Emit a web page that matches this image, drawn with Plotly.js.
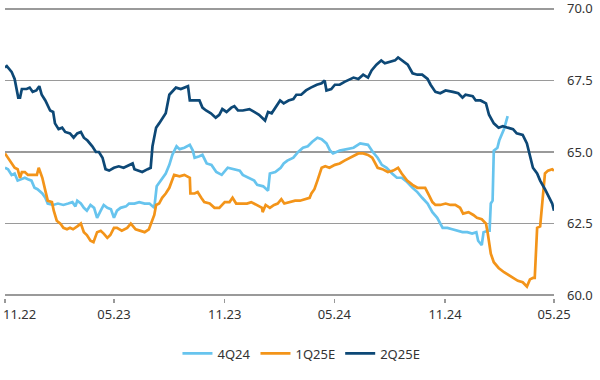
<!DOCTYPE html>
<html>
<head>
<meta charset="utf-8">
<script src="https://cdn.plot.ly/plotly-3.0.1.min.js"></script>
<style>html,body{margin:0;padding:0;background:#fff;}#chart{width:600px;height:380px;}</style>
</head>
<body>
<div id="chart"></div>
<script>
// 4Q24
const dates4Q24 = ["2022-11-01","2022-11-06","2022-11-12","2022-11-17","2022-11-22","2022-11-29","2022-12-04","2022-12-09","2022-12-15","2022-12-20","2022-12-25","2023-01-02","2023-01-07","2023-01-11","2023-01-20","2023-01-28","2023-02-06","2023-02-14","2023-02-21","2023-02-26","2023-03-01","2023-03-07","2023-03-12","2023-03-17","2023-03-23","2023-03-29","2023-04-03","2023-04-09","2023-04-14","2023-04-20","2023-04-26","2023-05-01","2023-05-06","2023-05-12","2023-05-21","2023-05-26","2023-06-04","2023-06-12","2023-06-21","2023-06-29","2023-07-07","2023-07-11","2023-07-18","2023-07-26","2023-08-01","2023-08-06","2023-08-13","2023-08-18","2023-08-26","2023-09-04","2023-09-09","2023-09-12","2023-09-20","2023-09-25","2023-10-02","2023-10-10","2023-10-18","2023-10-27","2023-11-06","2023-11-17","2023-11-26","2023-12-01","2023-12-12","2023-12-20","2023-12-25","2024-01-04","2024-01-12","2024-01-15","2024-01-24","2024-02-02","2024-02-07","2024-02-13","2024-02-23","2024-03-02","2024-03-10","2024-03-18","2024-03-25","2024-04-03","2024-04-10","2024-04-18","2024-04-24","2024-04-29","2024-05-10","2024-05-22","2024-06-02","2024-06-13","2024-06-22","2024-06-26","2024-07-04","2024-07-12","2024-07-19","2024-07-27","2024-08-05","2024-08-13","2024-08-21","2024-08-30","2024-09-08","2024-09-16","2024-09-24","2024-10-03","2024-10-11","2024-10-19","2024-10-28","2024-11-05","2024-11-13","2024-11-21","2024-11-30","2024-12-08","2024-12-16","2024-12-23","2024-12-26","2025-01-01","2025-01-04","2025-01-11","2025-01-14","2025-01-16","2025-01-19","2025-01-21","2025-01-27","2025-01-30","2025-02-07","2025-02-13"];
const values4Q24 = [64.45,64.4,64.2,64.25,64.0,64.05,64.1,64.05,64.0,63.75,63.7,63.55,63.4,63.2,63.15,63.2,63.15,63.2,63.25,63.1,63.3,63.2,63.05,62.95,63.15,63.05,62.7,62.95,63.15,63.05,63.0,62.7,62.95,63.05,63.1,63.2,63.2,63.25,63.2,63.2,63.05,63.8,64.0,64.25,64.55,64.9,65.2,65.1,65.15,65.25,65.05,64.8,64.85,64.9,64.6,64.55,64.3,64.2,64.45,64.4,64.35,64.2,64.1,64.0,63.85,63.8,63.65,64.25,64.3,64.45,64.6,64.7,64.8,65.0,65.15,65.2,65.35,65.5,65.45,65.3,65.05,64.95,65.05,65.1,65.15,65.3,65.25,65.25,65.0,64.8,64.55,64.45,64.25,64.1,64.1,63.95,63.75,63.6,63.4,63.2,62.9,62.7,62.35,62.35,62.3,62.25,62.2,62.2,62.15,62.2,61.9,61.75,62.2,62.25,62.25,63.2,63.3,65.05,65.15,65.4,65.8,66.25];

// 1Q25E
const dates1Q25E = ["2022-11-01","2022-11-06","2022-11-12","2022-11-17","2022-11-22","2022-11-26","2022-11-29","2022-12-04","2022-12-09","2022-12-15","2022-12-24","2022-12-27","2023-01-02","2023-01-07","2023-01-11","2023-01-18","2023-01-21","2023-01-26","2023-02-01","2023-02-06","2023-02-12","2023-02-17","2023-02-22","2023-03-01","2023-03-07","2023-03-12","2023-03-17","2023-03-23","2023-03-28","2023-04-03","2023-04-09","2023-04-14","2023-04-20","2023-04-25","2023-05-01","2023-05-06","2023-05-14","2023-05-23","2023-05-29","2023-06-06","2023-06-12","2023-06-21","2023-06-28","2023-07-02","2023-07-07","2023-07-10","2023-07-15","2023-07-20","2023-07-26","2023-08-01","2023-08-04","2023-08-09","2023-08-18","2023-08-26","2023-09-04","2023-09-05","2023-09-12","2023-09-17","2023-09-23","2023-09-28","2023-10-07","2023-10-15","2023-10-23","2023-11-01","2023-11-09","2023-11-14","2023-11-20","2023-11-29","2023-12-08","2023-12-15","2023-12-24","2024-01-02","2024-01-03","2024-01-08","2024-01-15","2024-01-22","2024-01-28","2024-02-03","2024-02-08","2024-02-18","2024-02-26","2024-03-05","2024-03-13","2024-03-21","2024-03-24","2024-03-29","2024-04-03","2024-04-10","2024-04-16","2024-04-23","2024-05-02","2024-05-10","2024-05-18","2024-05-27","2024-06-05","2024-06-10","2024-06-18","2024-06-26","2024-07-03","2024-07-07","2024-07-12","2024-07-20","2024-07-29","2024-08-07","2024-08-15","2024-08-21","2024-08-30","2024-09-08","2024-09-16","2024-09-23","2024-09-29","2024-10-05","2024-10-11","2024-10-16","2024-10-24","2024-11-02","2024-11-10","2024-11-18","2024-11-26","2024-12-01","2024-12-10","2024-12-18","2024-12-24","2025-01-01","2025-01-08","2025-01-11","2025-01-16","2025-01-21","2025-01-29","2025-02-07","2025-02-15","2025-02-23","2025-03-02","2025-03-10","2025-03-17","2025-03-22","2025-03-27","2025-03-30","2025-04-03","2025-04-08","2025-04-13","2025-04-16","2025-04-21","2025-04-28","2025-05-01"];
const values1Q25E = [64.95,64.8,64.6,64.45,64.4,64.1,64.3,64.3,64.2,64.2,64.2,64.45,64.1,63.65,63.3,63.25,62.95,62.6,62.5,62.35,62.3,62.35,62.3,62.4,62.5,62.2,62.1,61.9,61.85,62.2,62.25,62.15,62.0,62.1,62.35,62.35,62.25,62.35,62.5,62.3,62.25,62.2,62.3,62.55,62.8,63.15,63.2,63.4,63.55,63.75,63.95,64.2,64.15,64.2,64.1,63.55,63.55,63.6,63.4,63.25,63.2,63.05,63.05,63.25,63.25,63.4,63.2,63.2,63.2,63.25,63.15,63.05,62.9,63.15,63.05,63.15,63.2,63.35,63.2,63.25,63.3,63.3,63.35,63.4,63.55,63.7,64.0,64.45,64.5,64.45,64.55,64.6,64.7,64.8,64.9,64.95,64.95,64.9,64.8,64.65,64.45,64.4,64.3,64.35,64.45,64.25,64.0,63.85,63.75,63.75,63.75,63.5,63.25,63.15,63.15,63.2,63.15,63.15,63.05,62.85,62.9,62.8,62.7,62.65,62.5,62.15,61.45,61.15,60.95,60.8,60.7,60.6,60.5,60.45,60.3,60.55,60.6,60.6,62.35,62.4,63.6,64.25,64.35,64.4,64.35];

// 2Q25E
const dates2Q25E = ["2022-11-01","2022-11-04","2022-11-12","2022-11-17","2022-11-23","2022-11-26","2022-11-29","2022-12-07","2022-12-12","2022-12-17","2022-12-23","2022-12-28","2023-01-01","2023-01-07","2023-01-15","2023-01-20","2023-01-23","2023-01-29","2023-02-04","2023-02-09","2023-02-17","2023-02-23","2023-03-01","2023-03-07","2023-03-12","2023-03-18","2023-03-26","2023-04-01","2023-04-06","2023-04-12","2023-04-17","2023-04-23","2023-05-01","2023-05-09","2023-05-17","2023-05-23","2023-06-01","2023-06-04","2023-06-12","2023-06-17","2023-06-26","2023-07-01","2023-07-04","2023-07-10","2023-07-15","2023-07-21","2023-07-26","2023-08-01","2023-08-07","2023-08-12","2023-08-20","2023-09-01","2023-09-04","2023-09-15","2023-09-20","2023-09-25","2023-10-01","2023-10-09","2023-10-17","2023-10-23","2023-10-28","2023-11-04","2023-11-12","2023-11-17","2023-11-23","2023-12-01","2023-12-12","2023-12-20","2023-12-28","2024-01-07","2024-01-12","2024-01-18","2024-01-23","2024-02-01","2024-02-07","2024-02-15","2024-02-23","2024-02-28","2024-03-07","2024-03-15","2024-03-23","2024-04-02","2024-04-10","2024-04-15","2024-04-18","2024-04-26","2024-05-02","2024-05-10","2024-05-18","2024-05-23","2024-06-02","2024-06-10","2024-06-18","2024-06-26","2024-07-02","2024-07-10","2024-07-18","2024-07-24","2024-08-02","2024-08-10","2024-08-15","2024-08-21","2024-08-31","2024-09-08","2024-09-16","2024-09-24","2024-10-03","2024-10-08","2024-10-16","2024-10-24","2024-11-02","2024-11-14","2024-11-23","2024-11-30","2024-12-05","2024-12-17","2024-12-22","2024-12-30","2025-01-08","2025-01-13","2025-01-21","2025-01-29","2025-02-05","2025-02-13","2025-02-22","2025-02-28","2025-03-10","2025-03-17","2025-03-22","2025-03-27","2025-04-03","2025-04-08","2025-04-16","2025-04-21","2025-04-28","2025-05-01"];
const values2Q25E = [67.95,68.0,67.8,67.55,66.9,66.9,67.2,67.2,67.25,67.1,67.15,67.3,67.0,66.8,66.45,66.4,66.0,65.8,65.85,65.7,65.65,65.5,65.65,65.7,65.5,65.4,65.2,65.0,65.0,64.8,64.4,64.35,64.45,64.5,64.45,64.5,64.6,64.4,64.35,64.3,64.4,64.45,65.2,65.85,66.0,66.2,66.35,67.0,67.15,67.25,67.2,67.3,66.8,66.8,66.8,66.55,66.45,66.35,66.2,66.3,66.5,66.4,66.55,66.6,66.45,66.45,66.5,66.4,66.3,66.1,66.4,66.35,66.5,66.8,66.7,66.8,66.85,67.0,67.0,67.15,67.25,67.35,67.4,67.5,67.15,67.2,67.35,67.35,67.45,67.5,67.6,67.55,67.7,67.6,67.85,68.05,68.2,68.1,68.15,68.2,68.3,68.2,68.05,67.75,67.7,67.7,67.55,67.35,67.1,67.05,67.15,67.1,67.05,66.9,67.0,66.95,66.8,66.8,66.7,66.3,66.0,65.85,65.9,65.85,65.8,65.65,65.6,65.3,64.9,64.45,64.25,64.0,63.7,63.5,63.2,62.95];

const seriesNames = ["4Q24","1Q25E","2Q25E"];
const seriesColors = ["#67c4ee","#f39419","#0d4876"];
const xTickVals = ["2022-11-01","2023-05-01","2023-11-01","2024-05-01","2024-11-01","2025-05-01"];
const xTickText = ["11.22","05.23","11.23","05.24","11.24","05.25"];
const yTickVals = [60,62.5,65,67.5,70];

const allDates = [dates4Q24, dates1Q25E, dates2Q25E];
const allValues = [values4Q24, values1Q25E, values2Q25E];

const traces = seriesNames.map((n, i) => ({
  type: "scatter", mode: "lines", name: n,
  x: allDates[i], y: allValues[i],
  line: {color: seriesColors[i], width: 2.7}
}));

// first x label sits inside the chart edge in the reference, so it is placed as a left-anchored annotation
const shownTickText = xTickText.map((t, i) => i === 0 ? "" : t);

const layout = {
  width: 600, height: 380,
  margin: {l: 5, r: 46, t: 6, b: 82},
  paper_bgcolor: "#fff", plot_bgcolor: "#fff",
  font: {family: "Noto Sans, Open Sans, sans-serif", size: 13, color: "#333"},
  showlegend: true,
  legend: {orientation: "h", x: 0.54, xanchor: "center", y: -0.19, yanchor: "middle",
           font: {size: 13, color: "#333"}, itemwidth: 30, tracegroupgap: 0},
  xaxis: {type: "date", range: ["2022-11-01","2025-05-01"], tickvals: xTickVals, ticktext: shownTickText,
          showgrid: false, zeroline: false, showline: false,
          ticks: "outside", ticklen: 4, tickcolor: "#999", tickwidth: 1.3,
          tickfont: {size: 13, color: "#333"}, fixedrange: true},
  yaxis: {side: "right", range: [59.9,70.1], tickvals: yTickVals, tickformat: ".1f",
          showgrid: true, gridcolor: "#9a9a9a", gridwidth: 1.3, zeroline: false, showline: false,
          ticks: "", ticklabelstandoff: 12, ticklabeloverflow: "allow",
          tickfont: {size: 13, color: "#333"}, fixedrange: true},
  annotations: [{text: xTickText[0], xref: "x", x: xTickVals[0], xanchor: "left", xshift: -4,
                 yref: "paper", y: 0, yanchor: "top", yshift: -5, showarrow: false,
                 font: {size: 13, color: "#333"}}]
};

Plotly.newPlot("chart", traces, layout, {displayModeBar: false, staticPlot: true});
</script>
</body>
</html>
